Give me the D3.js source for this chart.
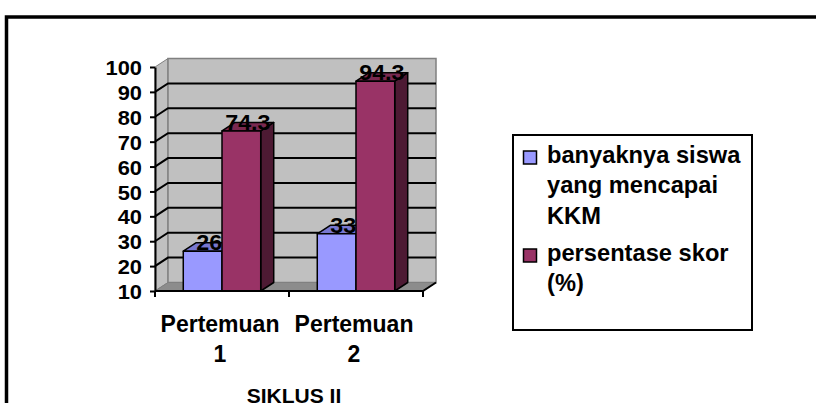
<!DOCTYPE html>
<html>
<head>
<meta charset="utf-8">
<script src="https://cdn.jsdelivr.net/npm/d3@7"></script>
<style>
  body { margin: 0; background: #fff; }
  text { font-family: "Liberation Sans", Arial, sans-serif; font-weight: bold; fill: #000; }
</style>
</head>
<body>
<script>
// chart data
var categories = ["Pertemuan 1", "Pertemuan 2"];
var seriesNames = ["banyaknya siswa yang mencapai KKM", "persentase skor (%)"];
var siswaKKM = [26, 33];
var persenSkor = [74.3, 94.3];
var yTicks = [10, 20, 30, 40, 50, 60, 70, 80, 90, 100];
var axisTitle = "SIKLUS II";
var legendLines = [["banyaknya siswa", "yang mencapai", "KKM"], ["persentase skor", "(%)"]];

var width = 816, height = 403;
var colors = ["#9999FF", "#993366"];
var topColors = ["#7777D0", "#7A2950"];
var sideColors = ["#5A5AA0", "#4D1A33"];

// depth offset of the 3d box
var dx = 13, dy = -8.5;

var x = d3.scaleBand().domain(categories).range([155, 423]);
var xs = d3.scaleBand().domain(d3.range(seriesNames.length)).range([0, x.bandwidth()]).paddingOuter(0.73);
var y = d3.scaleLinear().domain([10, 100]).range([291, 67]);

var svg = d3.select("body").append("svg")
    .attr("width", width)
    .attr("height", height);

// outer frame
svg.append("rect")
    .attr("x", 6.5).attr("y", 17)
    .attr("width", 900).attr("height", 500)
    .attr("fill", "none").attr("stroke", "#000").attr("stroke-width", 3.5);

var x0 = x.range()[0], x1 = x.range()[1];
var yTop = y(100), yBot = y(10);

// walls
svg.append("polygon")
    .attr("points", [[x0, yTop], [x0 + dx, yTop + dy], [x0 + dx, yBot + dy], [x0, yBot]].join(" "))
    .attr("fill", "#C0C0C0").attr("stroke", "#808080").attr("stroke-width", 1);
svg.append("rect")
    .attr("x", x0 + dx).attr("y", yTop + dy)
    .attr("width", x1 - x0).attr("height", yBot - yTop)
    .attr("fill", "#C0C0C0").attr("stroke", "#808080").attr("stroke-width", 1.5);
svg.append("polygon")
    .attr("points", [[x0, yBot], [x0 + dx, yBot + dy], [x1 + dx, yBot + dy], [x1, yBot]].join(" "))
    .attr("fill", "#8C8C8C").attr("stroke", "#808080").attr("stroke-width", 1);

// gridlines
var grid = svg.append("g").attr("stroke", "#000").attr("stroke-width", 2).attr("fill", "none");
yTicks.filter(function(v) { return v > 10 && v < 100; }).forEach(function(v) {
  grid.append("polyline")
      .attr("points", [[x0, y(v)], [x0 + dx, y(v) + dy], [x1 + dx, y(v) + dy]].join(" "));
});

// bars
var data = categories.map(function(c, i) {
  return [siswaKKM[i], persenSkor[i]].map(function(v, s) { return { cat: c, s: s, value: v }; });
});

data.forEach(function(group) {
  group.forEach(function(d) {
    var bx = x(d.cat) + xs(d.s), bw = xs.bandwidth(), by = y(d.value);
    var g = svg.append("g").attr("stroke", "#000").attr("stroke-width", 1.5).attr("stroke-linejoin", "round");
    g.append("polygon")
        .attr("points", [[bx + bw, by], [bx + bw + dx, by + dy], [bx + bw + dx, yBot + dy], [bx + bw, yBot]].join(" "))
        .attr("fill", sideColors[d.s]);
    g.append("polygon")
        .attr("points", [[bx, by], [bx + dx, by + dy], [bx + bw + dx, by + dy], [bx + bw, by]].join(" "))
        .attr("fill", topColors[d.s]);
    g.append("rect")
        .attr("x", bx).attr("y", by)
        .attr("width", bw).attr("height", yBot - by)
        .attr("fill", colors[d.s]);
  });
});

// data labels
data.forEach(function(group) {
  group.forEach(function(d) {
    var cx = x(d.cat) + xs(d.s) + xs.bandwidth() / 2 + dx / 2;
    svg.append("text")
        .attr("transform", "translate(" + cx + "," + (y(d.value) - 1) + ") scale(1.06,1)")
        .attr("text-anchor", "middle")
        .style("font-size", "22px")
        .text(d.value);
  });
});

// y axis
var yAxis = svg.append("g")
    .attr("transform", "translate(" + x0 + ",0)")
    .call(d3.axisLeft(y).tickValues(yTicks).tickSize(5).tickPadding(0).tickSizeOuter(0));
yAxis.select(".domain").attr("stroke", "#000").attr("stroke-width", 2);
yAxis.selectAll(".tick line").attr("stroke", "#000").attr("stroke-width", 2);
yAxis.selectAll(".tick text")
    .attr("x", -12.5)
    .attr("dy", "0.36em")
    .attr("transform", "scale(1.04,1)")
    .style("font-size", "21px")
    .style("font-family", "'Liberation Sans', Arial, sans-serif")
    .style("font-weight", "bold")
    .attr("fill", "#000");

// x axis line, category boundary ticks and floor edge
var xa = svg.append("g").attr("stroke", "#000").attr("stroke-width", 2).attr("fill", "none");
xa.append("polyline").attr("points", [[x0, yBot], [x1, yBot], [x1 + dx, yBot + dy]].join(" "));
var bounds = categories.map(function(c) { return x(c); }).concat([x1]);
bounds.forEach(function(b) {
  xa.append("line").attr("x1", b).attr("x2", b).attr("y1", yBot).attr("y2", yBot + 6);
});

// category labels
categories.forEach(function(c) {
  var cx = x(c) + x.bandwidth() / 2 - 2;
  var t = svg.append("text")
      .attr("transform", "translate(" + cx + ",332)")
      .attr("text-anchor", "middle")
      .style("font-size", "23px");
  c.split(" ").forEach(function(w, i) {
    t.append("tspan").attr("x", 0).attr("y", i * 30).text(w);
  });
});

// axis title
svg.append("text")
    .attr("transform", "translate(" + ((x0 + x1) / 2 + 5) + ",403)")
    .attr("text-anchor", "middle")
    .style("font-size", "21px")
    .text(axisTitle);

// legend
var legend = svg.append("g");
legend.append("rect")
    .attr("x", 513).attr("y", 135)
    .attr("width", 239).attr("height", 195)
    .attr("fill", "#fff").attr("stroke", "#000").attr("stroke-width", 2);

var legendY = [163, 261];
legendLines.forEach(function(lines, s) {
  legend.append("rect")
      .attr("x", 523.5).attr("y", legendY[s] - 12)
      .attr("width", 13).attr("height", 13)
      .attr("fill", colors[s]).attr("stroke", "#000").attr("stroke-width", 1.5);
  var t = legend.append("text")
      .attr("transform", "translate(547," + legendY[s] + ") scale(1.03,1)")
      .style("font-size", "23px");
  lines.forEach(function(l, i) {
    t.append("tspan").attr("x", 0).attr("y", i * 30.5).text(l);
  });
});
</script>
</body>
</html>
